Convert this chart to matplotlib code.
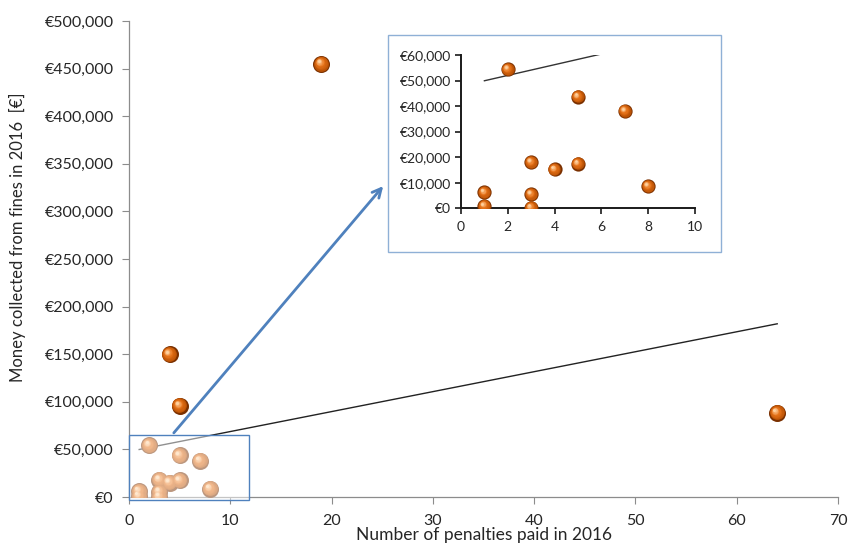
import numpy as np
import matplotlib
matplotlib.use("Agg")
import matplotlib.pyplot as plt
from matplotlib.patches import Rectangle, FancyArrowPatch
from matplotlib.ticker import FuncFormatter
from matplotlib.transforms import offset_copy
from matplotlib.colors import to_rgb

plt.rcParams["font.family"] = ["Lato", "DejaVu Sans"]

# penalties paid vs. money collected (2016)
penalties = [19, 4, 5, 64, 2, 5, 7, 3, 4, 5, 8, 1, 3, 1, 3]
fines = [455000, 150000, 96000, 88500, 54500, 43700, 38100, 18100,
         15200, 17500, 8700, 6200, 5500, 900, 300]

x_ticks = [0, 10, 20, 30, 40, 50, 60, 70]
y_ticks = [0, 50000, 100000, 150000, 200000, 250000, 300000, 350000, 400000, 450000, 500000]
zoom_x_ticks = [0, 2, 4, 6, 8, 10]
zoom_y_ticks = [0, 10000, 20000, 30000, 40000, 50000, 60000]

x_label = "Number of penalties paid in 2016"
y_label = "Money collected from fines in 2016  [\u20ac]"

TEXT = "#262626"
BLUE = "#4f81bd"


def euro(v, pos=None):
    return "\u20ac{:,.0f}".format(v)


def mix(c1, c2, t):
    a = np.array(to_rgb(c1))
    b = np.array(to_rgb(c2))
    return tuple(a + (b - a) * t)


def draw_spheres(ax, fig, xs, ys, size, zorder=3, clip=True):
    # fake 3D ball: stacked discs getting lighter and shifting up-left
    r = np.sqrt(size) / 2.0
    ax.scatter(xs, ys, s=size, color="#7a3000", linewidths=0, zorder=zorder, clip_on=clip)
    n = 9
    for i in range(1, n + 1):
        t = i / n
        d = 2 * r * (1 - 0.82 * t) * 0.96
        off = offset_copy(ax.transData, fig=fig, x=-0.32 * r * t, y=0.32 * r * t, units="points")
        if t < 0.6:
            col = mix("#b04a00", "#e8741a", t / 0.6)
        else:
            col = mix("#e8741a", "#ffd2a0", (t - 0.6) / 0.4)
        ax.scatter(xs, ys, s=d ** 2, color=col, linewidths=0, zorder=zorder + 0.01 * i,
                   transform=off, clip_on=clip)


fig = plt.figure(figsize=(8.49, 5.46), dpi=100)
ax = fig.add_axes([0.152, 0.0897, 0.835, 0.8718])

slope, intercept = np.polyfit(penalties, fines, 1)
fit_x = np.array([min(penalties), max(penalties)])
fit_y = intercept + slope * fit_x

ax.plot(fit_x, fit_y, color="#222222", lw=1.0, zorder=2)
draw_spheres(ax, fig, penalties, fines, 150, zorder=3, clip=True)

# highlighted zoom region: washed-out overlay with blue frame
ax.add_patch(Rectangle((0.03, -3000), 11.83, 68000, facecolor="white", alpha=0.5,
                       edgecolor="none", zorder=5, clip_on=False))
ax.add_patch(Rectangle((0.03, -3000), 11.83, 68000, facecolor="none",
                       edgecolor=BLUE, lw=1.0, zorder=6, clip_on=False))

ax.set_xlim(0, 70)
ax.set_ylim(0, 500000)
ax.set_xticks(x_ticks)
ax.set_yticks(y_ticks)
ax.yaxis.set_major_formatter(FuncFormatter(euro))
for s in ["top", "right"]:
    ax.spines[s].set_visible(False)
for s in ["left", "bottom"]:
    ax.spines[s].set_color("#8c8c8c")
    ax.spines[s].set_linewidth(0.9)
ax.tick_params(axis="both", direction="out", length=5, width=0.8, color="#8c8c8c",
               labelsize=11.5, labelcolor=TEXT)
ax.tick_params(axis="x", pad=7)
ax.tick_params(axis="y", pad=6)
ax.set_xlabel(x_label, fontsize=12.5, color=TEXT)
ax.set_ylabel(y_label, fontsize=12, color=TEXT)
ax.xaxis.set_label_coords(0.5, -0.064)
ax.yaxis.set_label_coords(-0.145, 0.546)

# frame around the zoomed view
W, H = 849.0, 546.0
fig.patches.append(Rectangle((388 / W, 1 - 252 / H), (721 - 388) / W, (252 - 35) / H,
                             transform=fig.transFigure, facecolor="white",
                             edgecolor="#8fb0d6", lw=1.0, zorder=1))

ins = fig.add_axes([461 / W, 1 - 208.3 / H, (695 - 461) / W, (208.3 - 55) / H], zorder=3)
ins.patch.set_alpha(0)
ins.plot(fit_x, fit_y, color="#333333", lw=1.0, zorder=2)
draw_spheres(ins, fig, penalties, fines, 105, zorder=3, clip=True)
ins.set_xlim(0, 10)
ins.set_ylim(0, 60000)
ins.set_xticks(zoom_x_ticks)
ins.set_yticks(zoom_y_ticks)
ins.yaxis.set_major_formatter(FuncFormatter(euro))
for s in ["top", "right"]:
    ins.spines[s].set_visible(False)
for s in ["left", "bottom"]:
    ins.spines[s].set_color("#1a1a1a")
    ins.spines[s].set_linewidth(1.4)
ins.tick_params(axis="both", direction="out", length=4, width=1.2, color="#1a1a1a",
                labelsize=10, labelcolor=TEXT)
ins.tick_params(axis="x", pad=5)
ins.tick_params(axis="y", pad=3)

arrow = FancyArrowPatch((172 / W, 1 - 435 / H), (385 / W, 1 - 184 / H),
                        transform=fig.transFigure, arrowstyle="->", mutation_scale=16,
                        color=BLUE, lw=2.0, zorder=4)
fig.patches.append(arrow)

fig.savefig("out.png", dpi=100)
